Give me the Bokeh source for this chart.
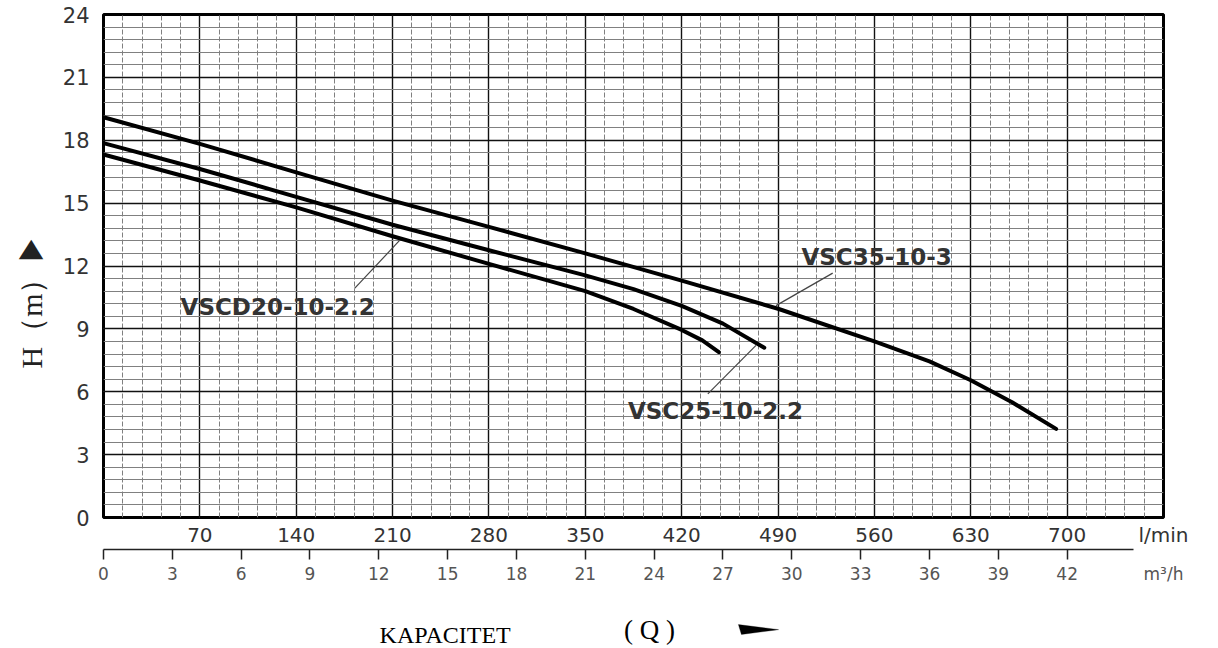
from bokeh.plotting import figure
from bokeh.layouts import column
from bokeh.models import (Range1d, LinearAxis, SingleIntervalTicker, FixedTicker,
                          Label, PolyAnnotation, Title)
from bokeh.embed import file_html
from bokeh.resources import INLINE

# ---------------- data (flow in l/min, head in m) ----------------
q_vsc35 = [0, 70, 140, 210, 280, 350, 420, 490, 560, 600, 630, 660, 692]
h_vsc35 = [19.1, 17.83, 16.47, 15.12, 13.87, 12.6, 11.3, 9.96, 8.4, 7.45, 6.55, 5.5, 4.23]

q_vsc25 = [0, 70, 140, 210, 280, 350, 385, 420, 450, 480]
h_vsc25 = [17.86, 16.63, 15.3, 13.97, 12.75, 11.55, 10.9, 10.1, 9.25, 8.1]

q_vscd20 = [0, 70, 140, 210, 280, 350, 385, 420, 435, 447]
h_vscd20 = [17.32, 16.08, 14.8, 13.42, 12.1, 10.8, 9.95, 8.95, 8.45, 7.89]

lpm_ticks = [70, 140, 210, 280, 350, 420, 490, 560, 630, 700]
m3h_ticks = [0, 3, 6, 9, 12, 15, 18, 21, 24, 27, 30, 33, 36, 39, 42]
h_ticks = [0, 3, 6, 9, 12, 15, 18, 21, 24]

Q_MAX = 770          # l/min at right frame edge
M3H_MAX = 46.2       # same edge in m3/h
M3H_AXIS_END = 44.9  # where the m3/h scale line stops

# curve labels and their leader lines (data coords)
label_names = ["VSCD20-10-2.2", "VSC35-10-3", "VSC25-10-2.2"]
label_q = [56, 507, 381]
label_h = [10.05, 12.42, 5.1]
lead_q0 = [182.4, 488.5, 439.0]
lead_h0 = [10.93, 10.11, 5.9]
lead_q1 = [215.1, 529.7, 474.0]
lead_h1 = [13.22, 11.66, 8.21]

# bottom caption (in the caption strip, same units)
cap_texts = ["KAPACITET", "( Q )"]
cap_q = [248.2, 396.6]
cap_h = [-5.63, -5.39]
cap_sizes = ["24px", "27px"]
arrow_q = [461.2, 463.4, 490.4]
arrow_h = [-5.11, -5.58, -5.35]

# ---------------- main chart ----------------
p = figure(width=1218, height=595, x_range=Range1d(0, Q_MAX), y_range=Range1d(0, 24),
           output_backend="svg", toolbar_location=None,
           min_border_left=102, min_border_right=55, min_border_top=14, min_border_bottom=78)
p.background_fill_color = "white"
p.border_fill_color = "white"
p.outline_line_color = "black"
p.outline_line_width = 3

# grid
p.xgrid.ticker = SingleIntervalTicker(interval=70, num_minor_ticks=5)
p.ygrid.ticker = SingleIntervalTicker(interval=3, num_minor_ticks=5)
for g in (p.xgrid[0], p.ygrid[0]):
    g.grid_line_color = "#111111"
    g.grid_line_width = 1.4
    g.minor_grid_line_color = "#808080"
    g.minor_grid_line_width = 1
p.xgrid[0].minor_grid_line_dash = "5 2"

# y axis
ya = p.yaxis[0]
ya.ticker = FixedTicker(ticks=h_ticks)
ya.major_tick_line_color = None
ya.minor_tick_line_color = None
ya.major_tick_out = 0
ya.minor_tick_out = 0
ya.axis_line_color = None
ya.major_label_standoff = 14
ya.major_label_text_font = "DejaVu Sans"
ya.major_label_text_font_size = "21px"
ya.major_label_text_color = "#333333"

# l/min scale (unit name shown at the frame edge)
xa = p.xaxis[0]
xa.ticker = FixedTicker(ticks=lpm_ticks + [Q_MAX])
xa.major_label_overrides = {Q_MAX: "l/min"}
xa.major_tick_line_color = None
xa.minor_tick_line_color = None
xa.major_tick_out = 0
xa.minor_tick_out = 0
xa.axis_line_color = None
xa.major_label_standoff = 5
xa.major_label_text_font = "DejaVu Sans"
xa.major_label_text_font_size = "20px"
xa.major_label_text_color = "#333333"

# m3/h scale: line + ticks (its numbers are drawn by the next axis)
p.extra_x_ranges = {"m3h": Range1d(0, M3H_MAX)}
ma = LinearAxis(x_range_name="m3h", ticker=FixedTicker(ticks=m3h_ticks), bounds=(0, M3H_AXIS_END))
ma.major_tick_out = 10
ma.major_tick_in = 0
ma.minor_tick_out = 0
ma.major_tick_line_color = "#222222"
ma.major_tick_line_width = 1.5
ma.minor_tick_line_color = None
ma.axis_line_color = "#222222"
ma.axis_line_width = 1.5
ma.major_label_standoff = 0
ma.major_label_text_font_size = "1px"
ma.major_label_text_color = None
p.add_layout(ma, "below")

# m3/h scale: numbers + unit
ml = LinearAxis(x_range_name="m3h", ticker=FixedTicker(ticks=m3h_ticks + [M3H_MAX]))
ml.major_label_overrides = {M3H_MAX: "m³/h"}
ml.major_tick_line_color = None
ml.minor_tick_line_color = None
ml.major_tick_out = 0
ml.minor_tick_out = 0
ml.axis_line_color = None
ml.major_label_standoff = 4
ml.major_label_text_font = "DejaVu Sans"
ml.major_label_text_font_size = "17px"
ml.major_label_text_color = "#555555"
p.add_layout(ml, "below")

# y title
p.add_layout(Title(text="H（m）▶", align="left", offset=149, standoff=24,
                   text_font="Liberation Serif", text_font_size="30px",
                   text_font_style="normal", text_color="#222222"), "left")

# curves
for qs, hs in ((q_vsc35, h_vsc35), (q_vsc25, h_vsc25), (q_vscd20, h_vscd20)):
    p.line(qs, hs, line_color="black", line_width=4, line_join="round", line_cap="round")

# leader lines
p.segment(x0=lead_q0, y0=lead_h0, x1=lead_q1, y1=lead_h1, line_color="#444444", line_width=1.2)

# curve labels
for name, q, h in zip(label_names, label_q, label_h):
    p.add_layout(Label(x=q, y=h, text=name, text_font="DejaVu Sans", text_font_style="bold",
                       text_font_size="23px", text_color="#333333",
                       text_align="left", text_baseline="middle"))

# ---------------- caption strip ----------------
cap = figure(width=1218, height=53, x_range=p.x_range,
             y_range=Range1d((517 - 648) / 20.958, (517 - 595) / 20.958),
             output_backend="svg", toolbar_location=None,
             x_axis_location=None, y_axis_location=None,
             min_border_left=102, min_border_right=55, min_border_top=0, min_border_bottom=0)
cap.outline_line_color = None
cap.xgrid.grid_line_color = None
cap.ygrid.grid_line_color = None
for t, q, h, fs in zip(cap_texts, cap_q, cap_h, cap_sizes):
    cap.add_layout(Label(x=q, y=h, text=t, text_font="Liberation Serif", text_font_size=fs,
                         text_color="black", text_align="center", text_baseline="middle"))
cap.add_layout(PolyAnnotation(xs=arrow_q, ys=arrow_h, fill_color="black", fill_alpha=1,
                              line_color="black", line_width=1))

layout = column(p, cap, spacing=0)
open("out.html", "w").write(file_html(layout, INLINE))
